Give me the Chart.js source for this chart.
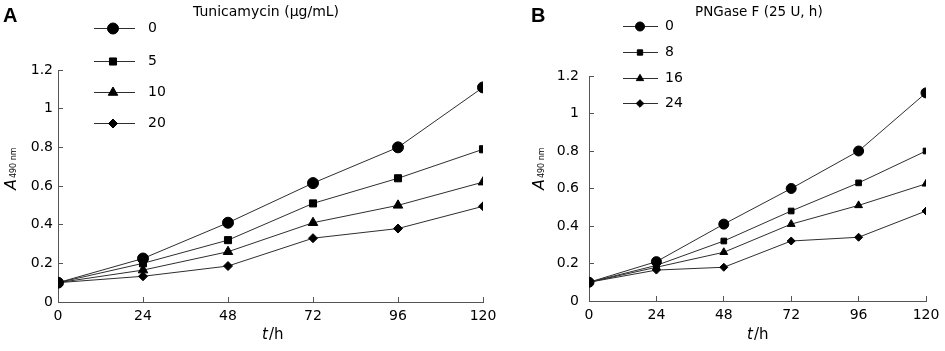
<!DOCTYPE html>
<html>
<head>
<meta charset="utf-8">
<script src="https://cdn.jsdelivr.net/npm/chart.js@4/dist/chart.umd.min.js"></script>
<style>
   html, body { margin: 0; padding: 0; background: #fff; }
   #wrap { position: relative; width: 945px; height: 351px; overflow: hidden; }
   canvas { position: absolute; top: 0; }
   #panel-a { left: 0; }
   #panel-b { left: 490px; }
</style>
</head>
<body>
<div id="wrap">
   <canvas id="panel-a" width="520" height="351"></canvas>
   <canvas id="panel-b" width="455" height="351"></canvas>
</div>
<script>
// time points (h)
const hours = [0, 24, 48, 72, 96, 120]

// panel A - tunicamycin dose (ug/mL)
const tunicamycinDoses = ['0', '5', '10', '20']
const tunicamycin0 = [0.10, 0.225, 0.41, 0.615, 0.80, 1.11]
const tunicamycin5 = [0.10, 0.20, 0.32, 0.51, 0.64, 0.79]
const tunicamycin10 = [0.10, 0.165, 0.26, 0.41, 0.50, 0.62]
const tunicamycin20 = [0.10, 0.133, 0.186, 0.33, 0.38, 0.495]

// panel B - PNGase F (25 U, h)
const pngaseHours = ['0', '8', '16', '24']
const pngase0 = [0.10, 0.21, 0.41, 0.60, 0.80, 1.11]
const pngase8 = [0.10, 0.19, 0.32, 0.48, 0.63, 0.80]
const pngase16 = [0.10, 0.18, 0.26, 0.41, 0.51, 0.625]
const pngase24 = [0.10, 0.165, 0.18, 0.32, 0.34, 0.48]

const markerStyles = ['circle', 'rect', 'triangle', 'rectRot']
const FONT = "'DejaVu Sans', Verdana, sans-serif"
const LINE = '#2e2e2e'
const AXIS = '#555'

// draws the panel letter, title, legend and axis titles
const decorPlugin = {
   id: 'panelDecor',
   afterDraw(chart, args, opts) {
      const ctx = chart.ctx
      ctx.save()
      ctx.fillStyle = '#000'

      ctx.font = "bold 20px 'Liberation Sans', Arial, sans-serif"
      ctx.textBaseline = 'middle'
      ctx.textAlign = 'left'
      ctx.fillText(opts.letter, opts.letterX, 16)

      ctx.font = opts.titleSize + 'px ' + FONT
      ctx.fillText(opts.title, opts.titleX, 12)

      // legend
      chart.data.datasets.forEach((ds, i) => {
         const y = opts.legendY[i]
         ctx.strokeStyle = LINE
         ctx.lineWidth = 1
         ctx.beginPath()
         ctx.moveTo(opts.legendLine[0], y + 0.5)
         ctx.lineTo(opts.legendLine[1], y + 0.5)
         ctx.stroke()
         ctx.fillStyle = '#000'
         ctx.strokeStyle = '#000'
         Chart.helpers.drawPoint(ctx, {
            pointStyle: ds.pointStyle,
            radius: opts.legendRadius[i],
            rotation: 0,
            borderWidth: 1
         }, opts.legendMarkX, y + 0.5)
         ctx.font = '14px ' + FONT
         ctx.textBaseline = 'middle'
         ctx.fillText(ds.label, opts.legendTextX, y)
      })

      // x axis title: t/h
      ctx.font = 'italic 15px ' + FONT
      ctx.textBaseline = 'middle'
      const tw = ctx.measureText('t').width
      ctx.fillText('t', opts.xTitleX, 335)
      ctx.font = '15px ' + FONT
      ctx.fillText('/h', opts.xTitleX + tw + 1, 335)

      // y axis title: A490 nm
      ctx.translate(opts.yTitleX, 190)
      ctx.rotate(-Math.PI / 2)
      ctx.textBaseline = 'alphabetic'
      ctx.font = 'italic 16px ' + FONT
      ctx.fillText('A', 0, 0)
      const aw = ctx.measureText('A').width
      ctx.font = '8px ' + FONT
      ctx.fillText('490 nm', aw + 1, 0)
      ctx.restore()
   }
}

function makeChart(canvas, cfg) {
   const datasets = cfg.series.map((s, i) => ({
      label: cfg.labels[i],
      data: hours.map((h, j) => ({ x: h, y: s[j] })),
      borderColor: LINE,
      borderWidth: 1,
      pointStyle: markerStyles[i],
      pointRadius: cfg.radii[i],
      pointBackgroundColor: '#000',
      pointBorderColor: '#000',
      pointBorderWidth: 1,
      tension: 0,
      fill: false
   }))

   return new Chart(canvas, {
      type: 'line',
      data: { datasets: datasets },
      options: {
         responsive: false,
         animation: false,
         events: [],
         layout: { padding: cfg.padding },
         plugins: {
            legend: { display: false },
            tooltip: { enabled: false },
            panelDecor: cfg.decor
         },
         scales: {
            x: {
               type: 'linear',
               min: 0,
               max: 120,
               ticks: {
                  stepSize: 24,
                  color: '#000',
                  padding: 11,
                  font: { family: FONT, size: 14 }
               },
               grid: { display: true, drawOnChartArea: false, drawTicks: true, tickLength: -5, color: AXIS },
               border: { display: true, color: AXIS, width: 1 },
               afterFit: s => { s.height = 35; s.paddingLeft = 0; s.paddingRight = 0 }
            },
            y: {
               min: 0,
               max: 1.2,
               ticks: {
                  stepSize: 0.2,
                  color: '#000',
                  padding: cfg.yPad,
                  font: { family: FONT, size: 14 },
                  callback: v => Math.round(v * 10) / 10
               },
               grid: { display: true, drawOnChartArea: false, drawTicks: true, tickLength: -5, color: AXIS },
               border: { display: true, color: AXIS, width: 1 },
               afterFit: s => { s.width = cfg.yWidth; s.paddingTop = 0; s.paddingBottom = 0 }
            }
         }
      },
      plugins: [decorPlugin]
   })
}

makeChart(document.getElementById('panel-a'), {
   labels: tunicamycinDoses,
   series: [tunicamycin0, tunicamycin5, tunicamycin10, tunicamycin20],
   radii: [5.5, 5, 5.5, 4.5],
   padding: { top: 70, right: 37, bottom: 14, left: 0 },
   yWidth: 58,
   yPad: 10,
   decor: {
      letter: 'A', letterX: 3,
      title: 'Tunicamycin (\u03bcg/mL)', titleX: 193, titleSize: 14,
      legendY: [28, 61, 92, 123],
      legendLine: [94, 135],
      legendMarkX: 113,
      legendRadius: [5.5, 5, 5.5, 4.5],
      legendTextX: 148,
      xTitleX: 262,
      yTitleX: 16
   }
})

makeChart(document.getElementById('panel-b'), {
   labels: pngaseHours,
   series: [pngase0, pngase8, pngase16, pngase24],
   radii: [5, 4, 4.5, 4],
   padding: { top: 76, right: 19, bottom: 15, left: 0 },
   yWidth: 99,
   yPad: 15,
   decor: {
      letter: 'B', letterX: 41,
      title: 'PNGase F (25 U, h)', titleX: 205, titleSize: 13.5,
      legendY: [26, 52, 78, 103],
      legendLine: [133, 168],
      legendMarkX: 150,
      legendRadius: [4.5, 3.8, 4.2, 3.8],
      legendTextX: 175,
      xTitleX: 257,
      yTitleX: 54
   }
})
</script>
</body>
</html>
